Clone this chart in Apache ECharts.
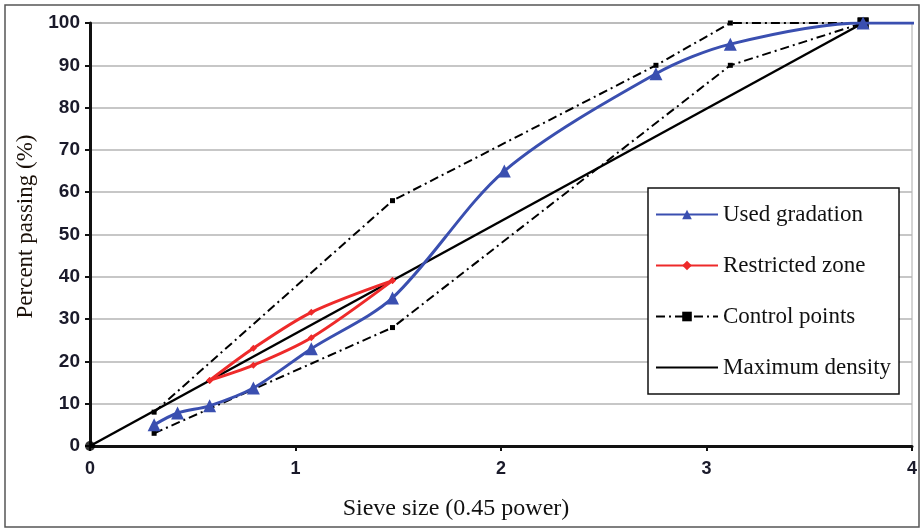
<!DOCTYPE html>
<html>
<head>
<meta charset="utf-8">
<script src="https://cdn.jsdelivr.net/npm/echarts@6/dist/echarts.min.js"></script>
<style>
  html, body { margin: 0; padding: 0; background: #fff; }
  #chart { width: 923px; height: 531px; }
</style>
</head>
<body>
<div id="chart"></div>
<script>
// sieve sizes raised to 0.45 power
var sieveX = [0.312, 0.426, 0.582, 0.795, 1.077, 1.472, 2.016, 2.754, 3.116, 3.762, 4.26];
var usedPass = [5, 7.8, 9.5, 13.7, 23, 35, 65, 88, 95, 100, 100];

var zoneX = [0.582, 0.795, 1.077, 1.472];
var zoneUpper = [15.5, 23.1, 31.6, 39.1];
var zoneLower = [15.5, 19.1, 25.6, 39.1];

var ctrlUpperX = [0.312, 1.472, 2.754, 3.116, 3.762];
var ctrlUpper = [8, 58, 90, 100, 100];
var ctrlLowerX = [0.312, 1.472, 3.116, 3.762];
var ctrlLower = [3, 28, 90, 100];

var maxDensX = [0, 3.762];
var maxDens = [0, 100];

var pairs = function (xs, ys) {
    return xs.map(function (x, i) { return [x, ys[i]]; });
};

var dashDot = [9, 4, 2, 4];
var serif = 'Liberation Serif';

var ctrlData = function (xs, ys) {
    return pairs(xs, ys).map(function (p) {
        if (p[0] === 3.762) {
            return { value: p, symbolSize: 11 };
        }
        return { value: p };
    });
};

var chart = echarts.init(document.getElementById('chart'));
var option = {
    animation: false,
    graphic: [{
        type: 'rect',
        shape: { x: 5, y: 5, width: 914, height: 522 },
        style: { fill: 'none', stroke: '#555', lineWidth: 1.5 },
        silent: true
    }],
    grid: {
        left: 90, right: 11, top: 23, bottom: 85,
        show: true, borderColor: '#aaa', borderWidth: 1
    },
    legend: {
        orient: 'vertical',
        left: 648, top: 188,
        padding: [15, 8, 15, 7],
        itemWidth: 62, itemHeight: 12, itemGap: 28,
        backgroundColor: '#fff',
        borderColor: '#111', borderWidth: 1.5,
        textStyle: { fontFamily: serif, fontSize: 23, color: '#111' },
        data: [
            'Used gradation',
            'Restricted zone',
            'Control points',
            { name: 'Maximum density', itemStyle: { opacity: 0 } }
        ]
    },
    xAxis: {
        type: 'value', min: 0, max: 4, interval: 1,
        name: 'Sieve size (0.45 power)',
        nameLocation: 'middle', nameGap: 51,
        nameTextStyle: { fontFamily: serif, fontSize: 24, color: '#111', padding: [0, 90, 0, 0] },
        axisLine: { lineStyle: { color: '#111', width: 3 } },
        axisTick: { show: true, length: 5, lineStyle: { color: '#111', width: 2 } },
        axisLabel: { margin: 14, fontFamily: 'Liberation Sans', fontWeight: 'bold', fontSize: 18, color: '#1a1a2a' },
        splitLine: { show: false }
    },
    yAxis: {
        type: 'value', min: 0, max: 100, interval: 10,
        name: 'Percent passing (%)',
        nameLocation: 'middle', nameGap: 48,
        nameTextStyle: { fontFamily: serif, fontSize: 23, color: '#1a1008', padding: [0, 0, 0, 16] },
        axisLine: { show: true, lineStyle: { color: '#111', width: 3 } },
        axisTick: { show: true, length: 5, lineStyle: { color: '#111', width: 2 } },
        axisLabel: { margin: 10, fontFamily: 'Liberation Sans', fontWeight: 'bold', fontSize: 19, color: '#1a1a2a' },
        splitLine: { show: true, lineStyle: { color: '#b5b5b5', width: 1.5 } }
    },
    series: [
        {
            name: 'Control points', type: 'line', z: 2,
            data: ctrlData(ctrlUpperX, ctrlUpper),
            symbol: 'rect', symbolSize: 5,
            itemStyle: { color: '#000' },
            lineStyle: { color: '#000', width: 2, type: dashDot }
        },
        {
            name: 'Control points', type: 'line', z: 2,
            data: ctrlData(ctrlLowerX, ctrlLower),
            symbol: 'rect', symbolSize: 5,
            itemStyle: { color: '#000' },
            lineStyle: { color: '#000', width: 2, type: dashDot }
        },
        {
            name: 'Maximum density', type: 'line', z: 3,
            data: pairs(maxDensX, maxDens),
            symbol: 'none',
            itemStyle: { color: '#000' },
            lineStyle: { color: '#000', width: 2.5 }
        },
        {
            name: 'origin', type: 'scatter', z: 3,
            data: [[maxDensX[0], maxDens[0]]],
            symbol: 'circle', symbolSize: 10,
            itemStyle: { color: '#000' }
        },
        {
            name: 'Restricted zone', type: 'line', z: 4, smooth: 0.3,
            data: pairs(zoneX, zoneUpper),
            symbol: 'diamond', symbolSize: 7,
            itemStyle: { color: '#ee2a2a' },
            lineStyle: { color: '#ee2a2a', width: 3 }
        },
        {
            name: 'Restricted zone', type: 'line', z: 4, smooth: 0.3,
            data: pairs(zoneX, zoneLower),
            symbol: 'diamond', symbolSize: 7,
            itemStyle: { color: '#ee2a2a' },
            lineStyle: { color: '#ee2a2a', width: 3 }
        },
        {
            name: 'Used gradation', type: 'line', z: 5, smooth: 0.3,
            data: pairs(sieveX, usedPass),
            symbol: 'triangle', symbolSize: 13,
            itemStyle: { color: '#3a4fb0' },
            lineStyle: { color: '#3a4fb0', width: 3 }
        }
    ]
};
chart.setOption(option);
</script>
</body>
</html>
